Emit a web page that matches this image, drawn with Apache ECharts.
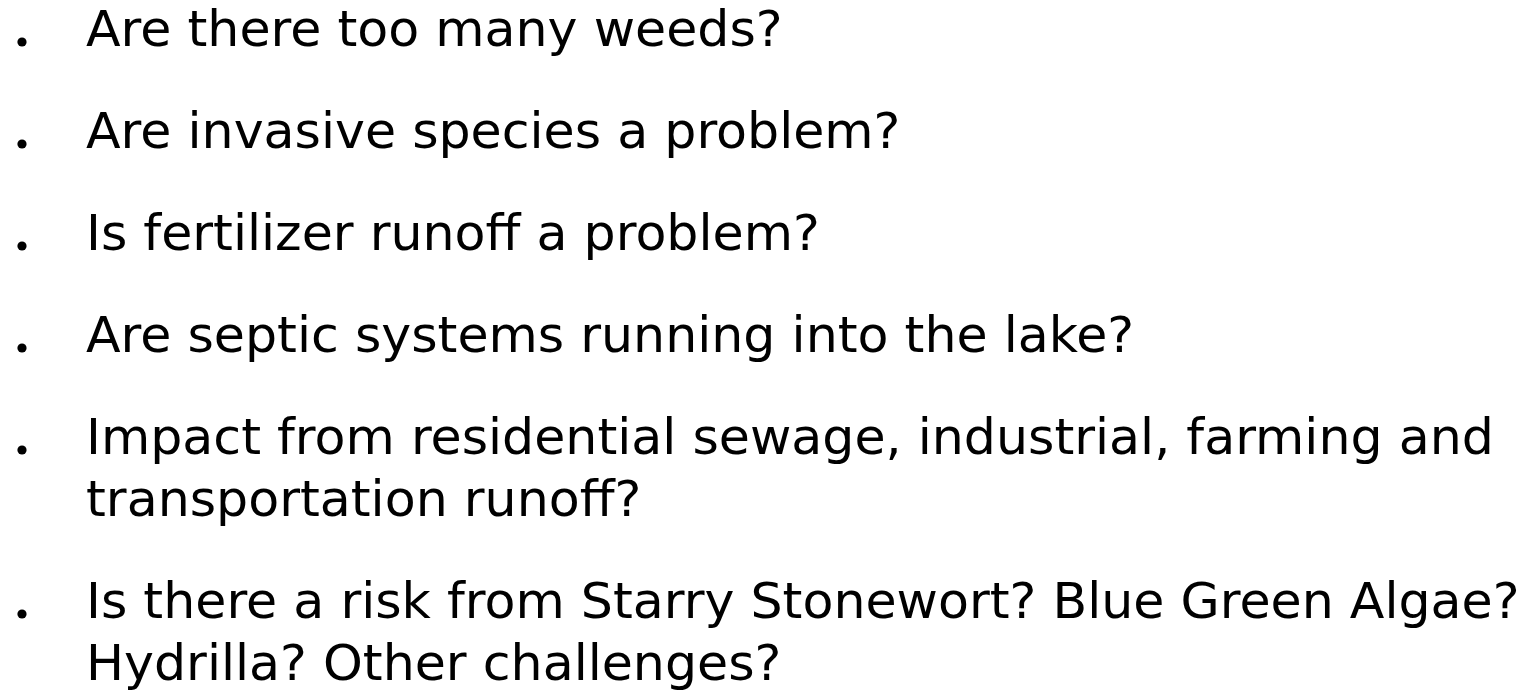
<!DOCTYPE html>
<html>
<head>
<meta charset="utf-8">
<script src="https://cdn.jsdelivr.net/npm/echarts@6/dist/echarts.min.js"></script>
<style>html,body{margin:0;padding:0;background:#fff}#main{width:1529px;height:694px}</style>
</head>
<body>
<div id="main"></div>
<script>
// bullet items, each split into its wrapped lines
const items = [
  ['Are there too many weeds?'],
  ['Are invasive species a problem?'],
  ['Is fertilizer runoff a problem?'],
  ['Are septic systems running into the lake?'],
  ['Impact from residential sewage, industrial, farming and', 'transportation runoff?'],
  ['Is there a risk from Starry Stonewort? Blue Green Algae?', 'Hydrilla? Other challenges?']
];

const chart = echarts.init(document.getElementById('main'));

// layout
const firstBaseline = 48;
const itemGap = 102;   // baseline to baseline between bullets
const wrapGap = 62;    // baseline to baseline inside a bullet
const textX = 86;
const bulletX = 22;
const fontSize = 50.6;
const midOffset = fontSize * 0.297; // canvas "middle" sits this far above the baseline

const graphic = [];
let baseline = firstBaseline;
items.forEach((lines, i) => {
  if (i > 0) baseline += itemGap;
  graphic.push({
    type: 'circle',
    shape: { cx: bulletX, cy: baseline - 6, r: 4.6 },
    style: { fill: '#000' }
  });
  lines.forEach((line, j) => {
    if (j > 0) baseline += wrapGap;
    graphic.push({
      type: 'text',
      x: textX,
      y: baseline - midOffset,
      style: {
        text: line,
        fontFamily: 'DejaVu Sans',
        fontSize: fontSize,
        fill: '#000',
        textAlign: 'left',
        textVerticalAlign: 'middle'
      }
    });
  });
});

chart.setOption({ animation: false, graphic: graphic });
</script>
</body>
</html>
